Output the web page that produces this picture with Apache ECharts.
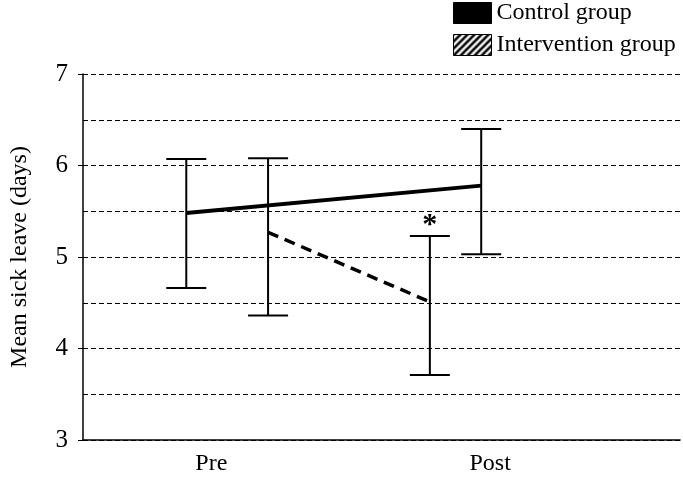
<!DOCTYPE html>
<html>
<head>
<meta charset="utf-8">
<script src="https://cdn.jsdelivr.net/npm/echarts@6/dist/echarts.min.js"></script>
<style>
html,body{margin:0;padding:0;background:#fff;}
#chart{width:683px;height:480px;}
</style>
</head>
<body>
<div id="chart"></div>
<script>
// ---- data ----
var categories = ['Pre', 'Post'];
var categoryX = [21.5, 68.2];
var controlX = [17.3, 66.7];
var controlMean = [5.48, 5.78];
var controlLow = [4.66, 5.03];
var controlHigh = [6.07, 6.40];
var interventionX = [31.0, 58.1];
var interventionMean = [5.27, 4.51];
var interventionLow = [4.36, 3.71];
var interventionHigh = [6.08, 5.23];
var interventionSig = ['', '*'];

var FONT = '"Liberation Serif", "Times New Roman", serif';

// hatch pattern for legend icon
var pc = document.createElement('canvas');
pc.width = 7; pc.height = 7;
var g = pc.getContext('2d');
g.fillStyle = '#fff'; g.fillRect(0, 0, 7, 7);
g.strokeStyle = '#000'; g.lineWidth = 2.6;
g.beginPath();
g.moveTo(0, 7); g.lineTo(7, 0);
g.moveTo(-3.5, 3.5); g.lineTo(3.5, -3.5);
g.moveTo(3.5, 10.5); g.lineTo(10.5, 3.5);
g.stroke();

function errData(xs, lo, hi, sig) {
  return xs.map(function (x, i) { return [x, lo[i], hi[i], sig ? sig[i] : '']; });
}
function errRender(params, api) {
  var x = api.value(0);
  var lo = api.coord([x, api.value(1)]);
  var hi = api.coord([x, api.value(2)]);
  var half = 20;
  var style = { stroke: '#000', lineWidth: 2 };
  var children = [
    { type: 'line', shape: { x1: lo[0], y1: lo[1], x2: hi[0], y2: hi[1] }, style: style },
    { type: 'line', shape: { x1: lo[0] - half, y1: lo[1], x2: lo[0] + half, y2: lo[1] }, style: style },
    { type: 'line', shape: { x1: hi[0] - half, y1: hi[1], x2: hi[0] + half, y2: hi[1] }, style: style }
  ];
  var s = api.value(3);
  if (s) {
    children.push({ type: 'text', x: hi[0], y: hi[1] - 11,
      style: { text: s, fill: '#000', font: 'bold 30px ' + FONT, align: 'center', verticalAlign: 'middle' } });
  }
  return { type: 'group', children: children };
}

var chart = echarts.init(document.getElementById('chart'), null, { renderer: 'canvas' });
chart.setOption({
  animation: false,
  backgroundColor: '#fff',
  grid: { left: 83, right: 3, top: 74, bottom: 40, containLabel: false },
  legend: {
    orient: 'vertical',
    left: 453, top: 1, padding: 0,
    itemWidth: 38, itemHeight: 21, itemGap: 8,
    textStyle: { fontFamily: FONT, fontSize: 24, color: '#000' },
    itemStyle: { borderColor: '#000', borderWidth: 1 },
    data: [
      { name: 'Control group', icon: 'rect', itemStyle: { color: '#000' } },
      { name: 'Intervention group', icon: 'rect', itemStyle: { color: { image: pc, repeat: 'repeat' } } }
    ]
  },
  xAxis: {
    type: 'value', min: 0, max: 100,
    axisLine: { show: true, lineStyle: { color: '#000', width: 1.5 } },
    axisTick: { show: false },
    splitLine: { show: false },
    axisLabel: {
      customValues: categoryX,
      margin: 12,
      fontFamily: FONT, fontSize: 24, color: '#000',
      formatter: function (v) {
        var best = 0;
        for (var i = 1; i < categoryX.length; i++) if (Math.abs(categoryX[i] - v) < Math.abs(categoryX[best] - v)) best = i;
        return categories[best];
      }
    }
  },
  yAxis: [
    {
      type: 'value', min: 3, max: 7, interval: 0.5,
      axisLine: { show: true, lineStyle: { color: '#000', width: 1.5 } },
      axisTick: { show: false },
      axisLabel: { show: false },
      splitLine: { show: true, lineStyle: { color: '#000', width: 1, type: [5, 3] } }
    },
    {
      type: 'value', min: 3, max: 7, interval: 1, position: 'left',
      axisLine: { show: false },
      axisTick: { show: true, length: 5, lineStyle: { color: '#000', width: 1 } },
      splitLine: { show: false },
      axisLabel: { margin: 15, fontFamily: FONT, fontSize: 25, color: '#000' },
      name: 'Mean sick leave (days)',
      nameLocation: 'middle', nameGap: 51, nameRotate: 90,
      nameTextStyle: { fontFamily: FONT, fontSize: 24, color: '#000' }
    }
  ],
  series: [
    {
      name: 'Control error', type: 'custom', renderItem: errRender,
      encode: { x: 0, y: [1, 2] },
      data: errData(controlX, controlLow, controlHigh), z: 2
    },
    {
      name: 'Intervention error', type: 'custom', renderItem: errRender,
      encode: { x: 0, y: [1, 2] },
      data: errData(interventionX, interventionLow, interventionHigh, interventionSig), z: 2
    },
    {
      name: 'Control group', type: 'line', showSymbol: false, symbol: 'none',
      data: controlX.map(function (x, i) { return [x, controlMean[i]]; }),
      lineStyle: { color: '#000', width: 4 }, itemStyle: { color: '#000' }, z: 3
    },
    {
      name: 'Intervention group', type: 'line', showSymbol: false, symbol: 'none',
      data: interventionX.map(function (x, i) { return [x, interventionMean[i]]; }),
      lineStyle: { color: '#000', width: 3.5, type: [11, 7] }, itemStyle: { color: '#000' }, z: 3
    }
  ]
});
</script>
</body>
</html>
